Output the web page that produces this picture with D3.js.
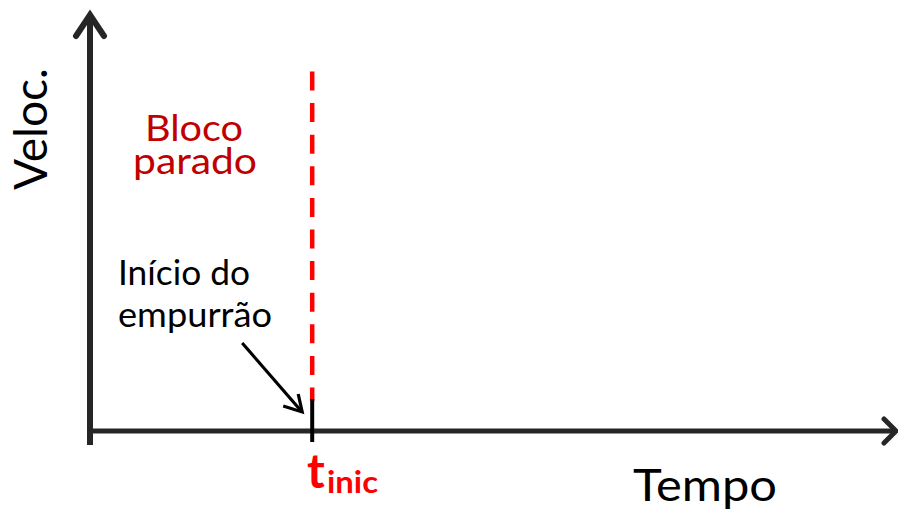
<!DOCTYPE html>
<html>
<head>
<meta charset="utf-8">
<script src="https://cdn.jsdelivr.net/npm/d3@7"></script>
<style>
  html, body { margin: 0; padding: 0; background: #fff; }
  svg { display: block; }
  text { font-family: Lato, "Open Sans", sans-serif; }
</style>
</head>
<body>
<div id="chart"></div>
<script>
// ---- data ----
const xDomain = [0, 10];          // time axis (arbitrary units)
const yDomain = [0, 10];          // velocity axis (arbitrary units)
const tInic = [2.75];             // instant the push starts
const markerTop = [8.6];          // top of the dashed marker (velocity units)
const axisLabels = ["Tempo", "Veloc."];
const regionLabel = ["Bloco", "parado"];
const noteLabel = ["Início do", "empurrão"];
const tickLabel = ["t", "inic"];

// ---- setup ----
const W = 898, H = 509;
const svg = d3.select("#chart").append("svg").attr("width", W).attr("height", H);

const x = d3.scaleLinear().domain(xDomain).range([90, 898]);
const y = d3.scaleLinear().domain(yDomain).range([431, 13]);

const axisColor = "#262626";

// y axis
svg.append("line")
  .attr("x1", x(0)).attr("x2", x(0))
  .attr("y1", y(0) + 14).attr("y2", y(10) + 2)
  .attr("stroke", axisColor).attr("stroke-width", 6);
svg.append("path")
  .attr("d", `M${x(0) - 14},${y(10) + 23} L${x(0)},${y(10) + 2} L${x(0) + 14},${y(10) + 23}`)
  .attr("fill", "none").attr("stroke", axisColor).attr("stroke-width", 6)
  .attr("stroke-linecap", "round").attr("stroke-linejoin", "miter");

// x axis
svg.append("line")
  .attr("x1", x(0)).attr("x2", x(10) - 2)
  .attr("y1", y(0)).attr("y2", y(0))
  .attr("stroke", axisColor).attr("stroke-width", 5);
svg.append("path")
  .attr("d", `M${x(10) - 14},${y(0) - 12} L${x(10) - 2},${y(0)} L${x(10) - 14},${y(0) + 12}`)
  .attr("fill", "none").attr("stroke", axisColor).attr("stroke-width", 5)
  .attr("stroke-linecap", "round").attr("stroke-linejoin", "miter");

// red dashed marker
svg.selectAll("line.marker").data(tInic).join("line")
  .attr("class", "marker")
  .attr("x1", d => x(d)).attr("x2", d => x(d))
  .attr("y1", y(markerTop[0])).attr("y2", y(0) - 30)
  .attr("stroke", "#ff0000").attr("stroke-width", 4.5)
  .attr("stroke-dasharray", "19 12.6");

// black tick at t_inic
svg.selectAll("line.tick").data(tInic).join("line")
  .attr("class", "tick")
  .attr("x1", d => x(d)).attr("x2", d => x(d))
  .attr("y1", y(0) - 32).attr("y2", y(0) + 11)
  .attr("stroke", "#000").attr("stroke-width", 4);

// annotation arrow
const tx = x(tInic[0]);
svg.append("line")
  .attr("x1", tx - 70).attr("y1", y(0) - 88)
  .attr("x2", tx - 11).attr("y2", y(0) - 20)
  .attr("stroke", "#000").attr("stroke-width", 3.2);
svg.append("path")
  .attr("d", `M${tx - 29},${y(0) - 25} L${tx - 10},${y(0) - 19} L${tx - 14},${y(0) - 37}`)
  .attr("fill", "none").attr("stroke", "#000").attr("stroke-width", 3.2)
  .attr("stroke-linejoin", "miter");

// axis labels
svg.append("text")
  .attr("x", 633).attr("y", 501)
  .attr("font-size", 44).attr("fill", "#000")
  .attr("textLength", 144).attr("lengthAdjust", "spacingAndGlyphs")
  .text(axisLabels[0]);

svg.append("text")
  .attr("transform", "translate(47,190) rotate(-90)")
  .attr("font-size", 46).attr("fill", "#000")
  .attr("textLength", 122).attr("lengthAdjust", "spacingAndGlyphs")
  .text(axisLabels[1]);

// region label
svg.append("text").attr("x", 145).attr("y", 141)
  .attr("font-size", 37).attr("fill", "#c00000")
  .attr("textLength", 98).attr("lengthAdjust", "spacingAndGlyphs")
  .text(regionLabel[0]);
svg.append("text").attr("x", 133).attr("y", 174)
  .attr("font-size", 37).attr("fill", "#c00000")
  .attr("textLength", 124).attr("lengthAdjust", "spacingAndGlyphs")
  .text(regionLabel[1]);

// note label
svg.append("text").attr("x", 118).attr("y", 285)
  .attr("font-size", 35).attr("fill", "#000")
  .attr("textLength", 132).attr("lengthAdjust", "spacingAndGlyphs")
  .text(noteLabel[0]);
svg.append("text").attr("x", 118).attr("y", 327)
  .attr("font-size", 35).attr("fill", "#000")
  .attr("textLength", 154).attr("lengthAdjust", "spacingAndGlyphs")
  .text(noteLabel[1]);

// t_inic label
svg.append("text").attr("x", 307).attr("y", 488)
  .attr("font-size", 48).attr("font-weight", "bold").attr("fill", "#ff0000")
  .text(tickLabel[0]);
svg.append("text").attr("x", 327).attr("y", 493)
  .attr("font-size", 30).attr("font-weight", "bold").attr("fill", "#ff0000")
  .attr("textLength", 51).attr("lengthAdjust", "spacingAndGlyphs")
  .text(tickLabel[1]);
</script>
</body>
</html>
